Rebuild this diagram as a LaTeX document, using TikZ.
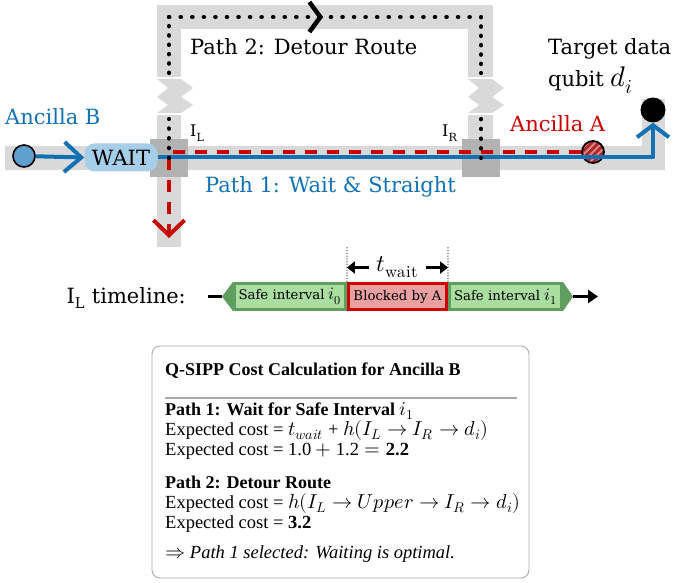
\documentclass[tikz,border=0pt]{standalone}
\usepackage{unicode-math}
\setmainfont{DejaVu Serif}
\setmathfont{Latin Modern Math}[Scale=1.09]
\newfontfamily\boxfont{Liberation Serif}
\usetikzlibrary{arrows.meta, decorations.markings, calc}

\definecolor{track}{RGB}{217,217,217}
\definecolor{junction}{RGB}{178,178,178}
\definecolor{pathblue}{RGB}{16,114,180}
\definecolor{pathred}{RGB}{200,0,0}
\definecolor{ancB}{RGB}{95,160,207}
\definecolor{waitfill}{RGB}{166,206,232}
\definecolor{safefill}{RGB}{170,221,160}
\definecolor{safeedge}{RGB}{96,158,96}
\definecolor{blockfill}{RGB}{234,160,160}
\definecolor{blockedge}{RGB}{204,0,0}
\definecolor{hatchA}{RGB}{170,40,40}
\definecolor{hatchline}{RGB}{226,130,130}
\definecolor{boxedge}{RGB}{170,170,170}

\newcommand{\bigmath}[2]{{\fontsize{#1}{#1}\selectfont$#2$}}

\tikzset{
  lbl/.style={font=\fontsize{21}{24}\selectfont, inner sep=0pt},
  smalllbl/.style={font=\fontsize{16}{18}\selectfont, inner sep=0pt},
  jsq/.style={rectangle, fill=junction, minimum size=38pt, inner sep=0pt},
  waitbox/.style={rectangle, rounded corners=10pt, fill=waitfill, minimum width=73pt,
    minimum height=28pt, inner sep=0pt, font=\fontsize{21}{24}\selectfont},
  blueline/.style={draw=pathblue, line width=4pt, line join=round},
  reddash/.style={draw=pathred, line width=4pt, dash pattern=on 12pt off 10pt},
  dotline/.style={draw=black, line width=4.2pt, line cap=round},
  safebox/.style={rectangle, fill=safefill, draw=safeedge, line width=2.6pt,
    minimum height=26.5pt, inner sep=0pt, font=\fontsize{13.3}{15}\selectfont},
  blockbox/.style={rectangle, fill=blockfill, draw=blockedge, line width=2.6pt,
    minimum height=26.5pt, inner sep=0pt, font=\fontsize{13.3}{15}\selectfont},
  dimarrow/.style={draw=black, line width=2.2pt, -{Triangle[length=8pt,width=12pt]}},
  boxtxt/.style={anchor=base west, inner sep=0pt, font=\boxfont\fontsize{18.5}{20}\selectfont},
  boxbold/.style={anchor=base west, inner sep=0pt, font=\boxfont\bfseries\fontsize{18}{20}\selectfont},
  ancAnode/.style={circle, draw=black, line width=1.8pt, fill=hatchA, minimum size=22pt, inner sep=0pt,
    path picture={\foreach \k in {-28,-21,...,28}{\draw[hatchline, line width=2pt]
      ([shift={(\k-20,20)}]path picture bounding box.center) -- ++(40,-40);}}},
}

\begin{document}
\begin{tikzpicture}[x=1pt, y=-1pt]
\useasboundingbox (0,0) rectangle (673,583);

% lattice tracks
\fill[track] (5,146) rectangle (665,170);
\fill[track] (642,99) rectangle (665,170);
\fill[track] (157,5) rectangle (493,29);
\fill[track] (157,5) rectangle (181,77);
\fill[track] (157,115) rectangle (181,247);
\fill[track] (468,5) rectangle (493,77);
\fill[track] (468,115) rectangle (493,170);
% broken-track zigzags
\foreach \dx in {0,311}{
  \fill[track, xshift=\dx] (157,79) -- (181,79) -- (193,88) -- (181,97) -- (193,105) -- (181,113)
    -- (157,113) -- (168,105) -- (157,97) -- (168,88) -- cycle;
}

% junction cells
\node[jsq] (IL) at (169,158) {};
\node[jsq] (IR) at (481,158) {};

% qubits
\node[circle, draw=black, line width=1.6pt, fill=ancB, minimum size=22pt, inner sep=0pt] (B) at (24,156) {};
\node[circle, fill=black, minimum size=25pt, inner sep=0pt] (tgt) at (653,110) {};
\node[ancAnode] (A) at (593,152) {};
\node[waitbox] (wait) at (121,157.5) {WAIT};

% path 2: detour (dotted)
\coordinate (cLtop) at (169,17);
\coordinate (cRtop) at (481,17);
\coordinate (cLgapT) at (169,73);
\coordinate (cLgapB) at (169,119);
\coordinate (cRgapT) at (481,73);
\coordinate (cRgapB) at (481,119);

% ancilla A moving left then down (red dashed)
\coordinate (redend) at (169,238);
\draw[reddash, -{Straight Barb[length=15pt,width=31pt]}] (A.west) -| (redend);

% path 1: wait & straight (blue)
\draw[blueline, -{Straight Barb[length=17pt,width=30pt]}] (B) -- (wait.west);
\draw[blueline, -{Straight Barb[length=12pt,width=32pt]}] (wait.east) -| (tgt);

\draw[dotline, dash pattern=on 0.4pt off 9.35pt] (IL.center) -- (cLgapB);
\draw[dotline, dash pattern=on 0.4pt off 8.933pt] (cLgapT) -- (cLtop);
\draw[dotline, dash pattern=on 0.4pt off 11.156pt,
  postaction={decorate, decoration={markings, mark=at position 0.494 with
    {\arrow[line width=4.5pt]{Straight Barb[length=11pt,width=30pt]}}}}] (cLtop) -- (cRtop);
\draw[dotline, dash pattern=on 0.4pt off 8.933pt] (cRtop) -- (cRgapT);
\draw[dotline, dash pattern=on 0.4pt off 9.35pt] (cRgapB) -- (IR.center);

% labels
\node[lbl, text=pathblue, anchor=base west] (labB) at (5,125) {Ancilla B};
\node[lbl, anchor=base west] (lab2) at (190,55) {Path 2: Detour Route};
\node[lbl, text=pathblue, anchor=base west] (lab1) at (205,193) {Path 1: Wait \& Straight};
\node[lbl, text=pathred, anchor=base west] (labA) at (510,132) {Ancilla A};
\node[lbl, anchor=base west] (labT1) at (548,55) {Target data};
\node[lbl, anchor=base west] (labT2) at (548,87) {qubit \bigmath{26}{d_i}};
\node[smalllbl, anchor=base west] (labIL) at (190,137) {I\textsubscript{L}};
\node[smalllbl, anchor=base west] (labIR) at (442,137) {I\textsubscript{R}};

% timeline of I_L
\node[lbl, anchor=base east] (tllab) at (186,303) {I\textsubscript{L} timeline:};
\node[safebox, minimum width=111.5pt] (s0) at (290,296.5) {Safe interval \bigmath{16}{i_0}};
\node[blockbox, minimum width=98.5pt] (blk) at (397.5,296.5) {Blocked by A};
\node[safebox, minimum width=112.5pt] (s1) at (505.5,296.5) {Safe interval \bigmath{16}{i_1}};
\coordinate (s0tip) at (222,296.5);
\coordinate (s1tip) at (573,296.5);
\coordinate (axL) at (208,296.5);
\coordinate (axR) at (598,296.5);
\fill[safeedge] (s0.north west) -- (s0tip) -- (s0.south west) -- cycle;
\fill[safeedge] (s1.north east) -- (s1tip) -- (s1.south east) -- cycle;
\draw[line width=2.5pt] (axL) -- (s0tip);
\draw[line width=2.5pt, -{Triangle[length=10pt,width=13pt]}] (s1tip) -- (axR);

% waiting time marker
\coordinate (dimL) at (347,247);
\coordinate (dimR) at (448,247);
\draw[line width=0.8pt, dash pattern=on 1.2pt off 1.6pt] (blk.north west) -- (dimL);
\draw[line width=0.8pt, dash pattern=on 1.2pt off 1.6pt] (blk.north east) -- (dimR);
\node[font=\fontsize{22}{24}\selectfont, inner xsep=8pt, inner ysep=0pt, anchor=base] (tw) at (397.5,272) {$t_{\symup{wait}}$};
\draw[dimarrow] (tw.west) -- (tw.west -| blk.north west);
\draw[dimarrow] (tw.east) -- (tw.east -| blk.north east);

% cost calculation panel
\node[draw=boxedge, line width=0.9pt, rounded corners=8pt, minimum width=377pt, minimum height=232pt,
  inner sep=0pt] (costbox) at (340.5,462) {};
\coordinate (ruleL) at (165,398);
\coordinate (ruleR) at (517,398);
\draw[boxedge, line width=1.2pt] (ruleL) -- (ruleR);
\node[boxbold] (c1) at (165,375) {Q-SIPP Cost Calculation for Ancilla B};
\node[boxbold] (c2) at (165,415) {Path 1: Wait for Safe Interval $i_1$};
\node[boxtxt] (c3) at (165,435) {Expected cost = $t_{wait}$ + $h(I_L \rightarrow I_R \rightarrow d_i)$};
\node[boxtxt] (c4) at (165,455) {Expected cost = 1.0${}+{}$1.2${}={}$\textbf{2.2}};
\node[boxbold] (c5) at (165,488) {Path 2: Detour Route};
\node[boxtxt] (c6) at (165,508) {Expected cost = $h(I_L \rightarrow Upper \rightarrow I_R \rightarrow d_i)$};
\node[boxtxt] (c7) at (165,528) {Expected cost = \textbf{3.2}};
\node[boxtxt] (c8) at (165,558) {$\Rightarrow$ \textit{Path 1 selected: Waiting is optimal.}};
\end{tikzpicture}
\end{document}
